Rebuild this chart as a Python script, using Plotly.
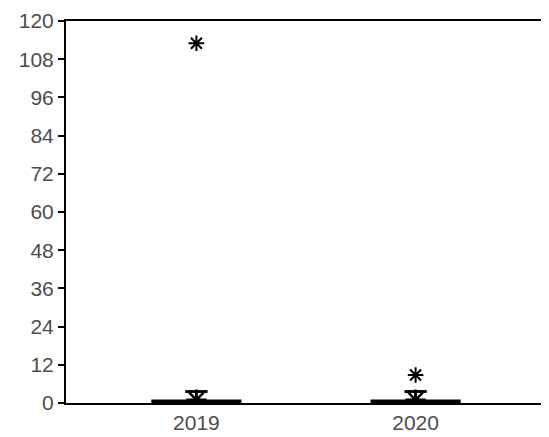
import plotly.graph_objects as go

years = ["2019", "2020"]
xpos = [0, 1]
q1 = [0.0, 0.0]
median = [0.0, 0.0]
q3 = [0.7, 0.7]
lower = [0.0, 0.0]
upper = [3.6, 3.6]
means = [1.0, 1.0]
outliers = [[113.0], [8.8]]
yticks = [0, 12, 24, 36, 48, 60, 72, 84, 96, 108, 120]

fig = go.Figure()
for i, x in enumerate(xpos):
    fig.add_trace(go.Box(
        x=[x], q1=[q1[i]], median=[median[i]], q3=[q3[i]],
        lowerfence=[lower[i]], upperfence=[upper[i]],
        width=0.4, whiskerwidth=0.25, boxpoints=False,
        line=dict(color="black", width=2.5), fillcolor="black",
        showlegend=False, hoverinfo="skip"))
    # whisker cap
    fig.add_trace(go.Scatter(
        x=[x - 0.05, x + 0.05], y=[upper[i], upper[i]], mode="lines",
        line=dict(color="black", width=2.5), showlegend=False, hoverinfo="skip"))
    # mean marker
    fig.add_trace(go.Scatter(
        x=[x], y=[means[i]], mode="markers",
        marker=dict(symbol="asterisk-open", size=17, color="black",
                    line=dict(color="black", width=2.5)),
        showlegend=False))
    # outliers
    fig.add_trace(go.Scatter(
        x=[x] * len(outliers[i]), y=outliers[i], mode="markers",
        marker=dict(symbol="asterisk-open", size=13, color="black",
                    line=dict(color="black", width=2)),
        showlegend=False))

fig.update_layout(
    width=541, height=429,
    margin=dict(l=58, r=1, t=12, b=34),
    plot_bgcolor="white", paper_bgcolor="white",
    font=dict(family="Liberation Sans, Arial, sans-serif", size=21, color="#4d4d4d"),
    xaxis=dict(range=[-0.595, 1.595], tickvals=xpos, ticktext=years,
               showgrid=False, zeroline=False, showline=True, linecolor="black",
               linewidth=2, mirror=True, ticks="", ticklen=0),
    yaxis=dict(range=[0, 120], tickvals=yticks, showgrid=False, zeroline=False,
               showline=True, linecolor="black", linewidth=2, mirror=True,
               ticks="outside", ticklen=6, tickwidth=2, tickcolor="black"),
)
fig.write_html("out.html")
